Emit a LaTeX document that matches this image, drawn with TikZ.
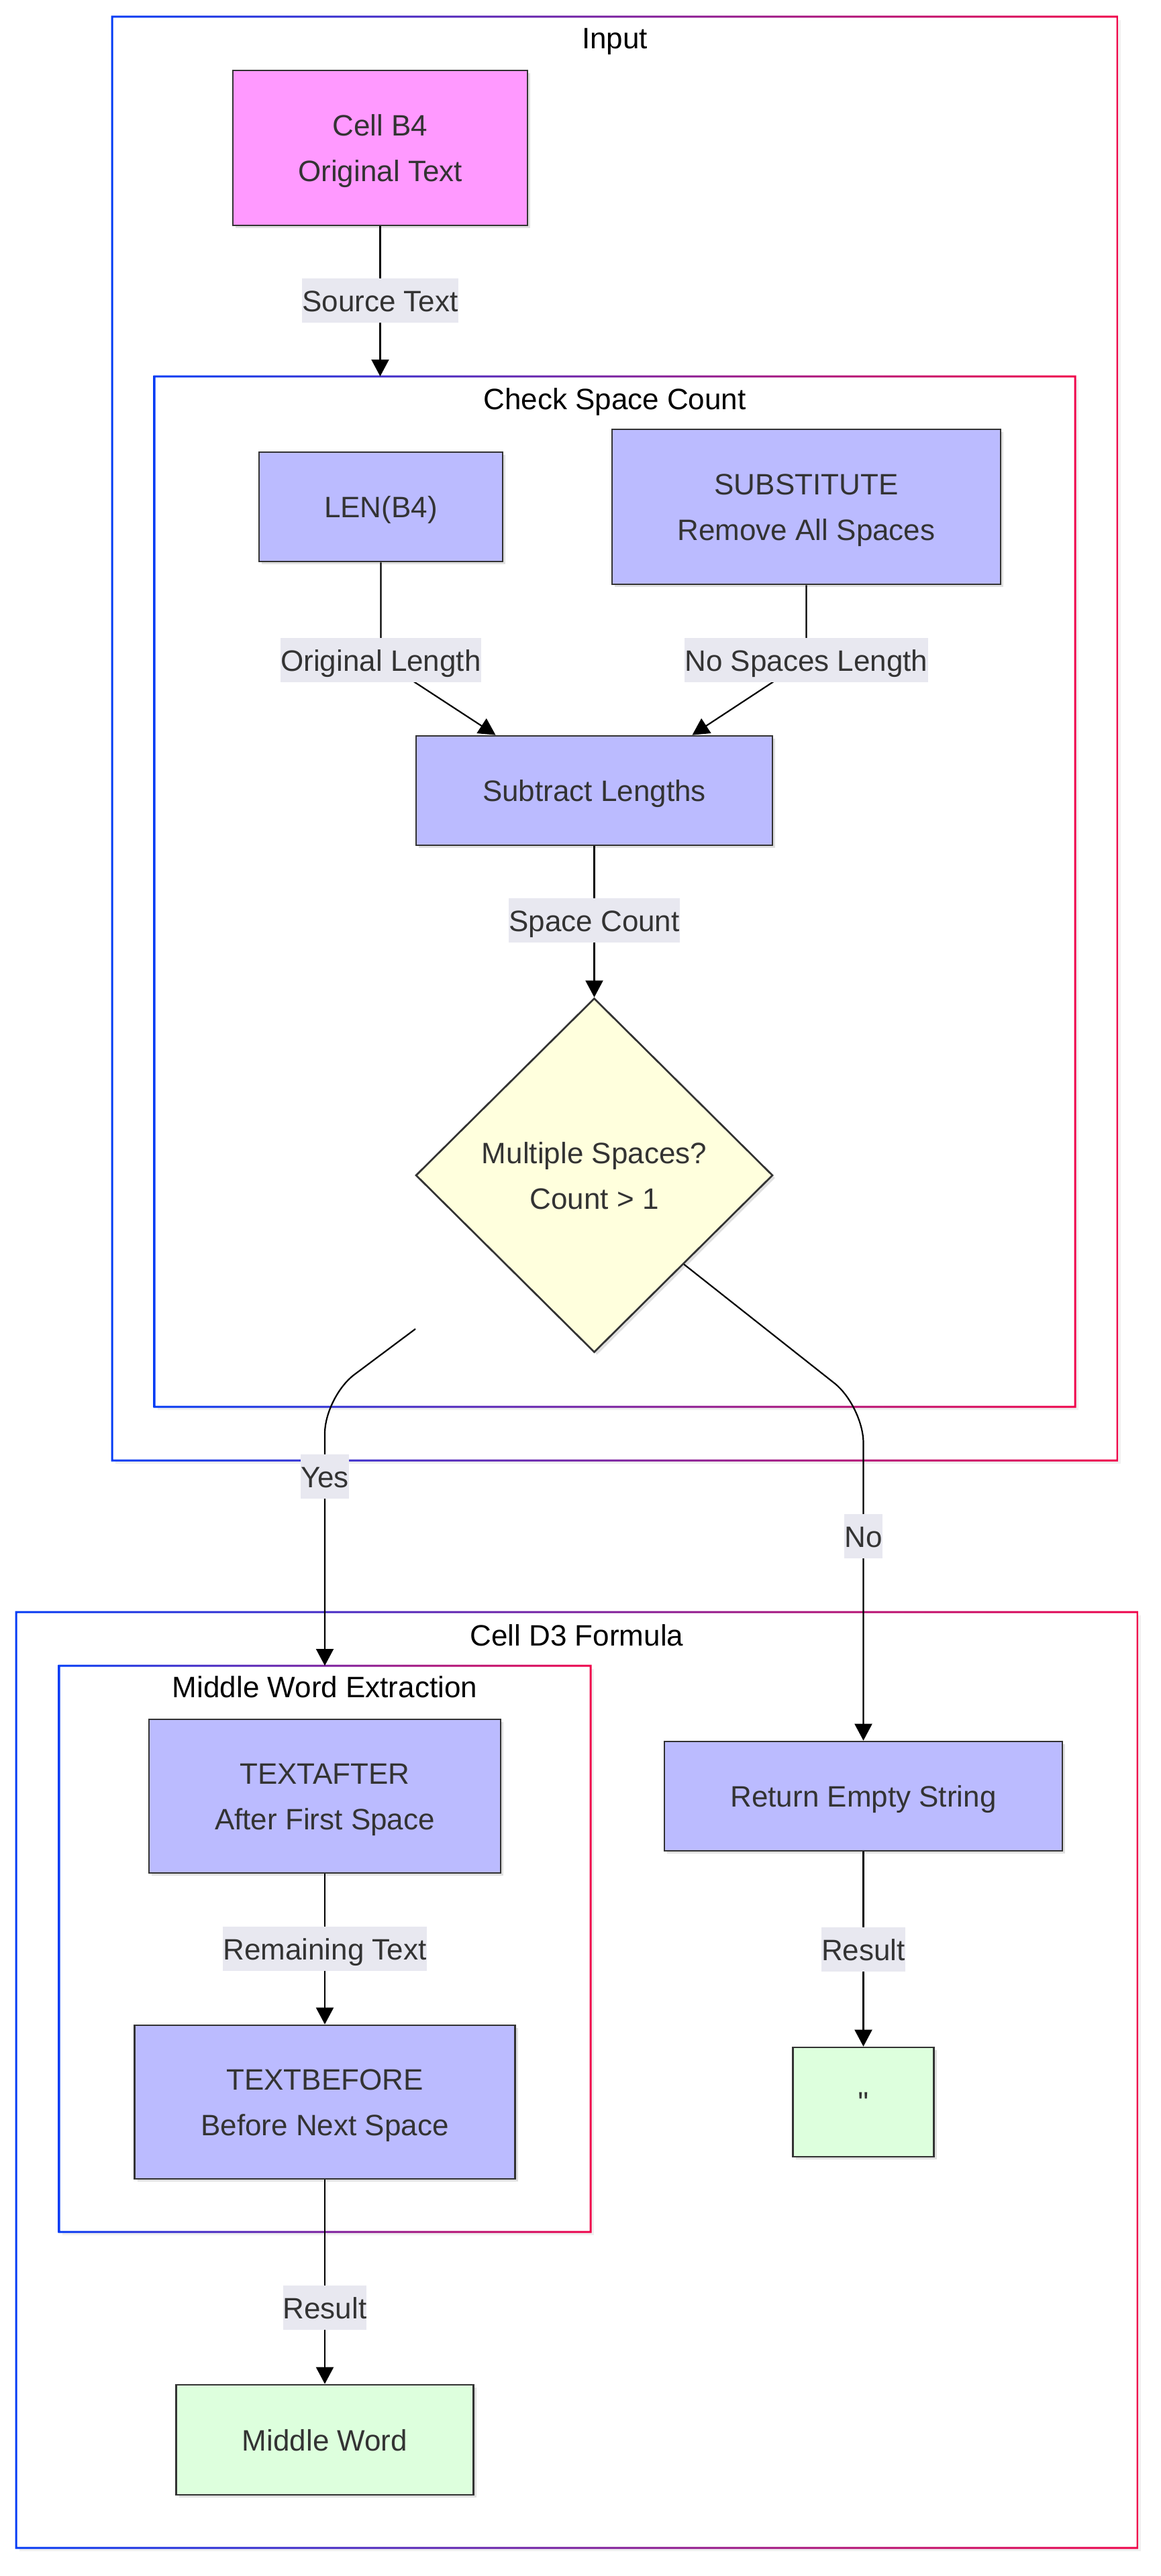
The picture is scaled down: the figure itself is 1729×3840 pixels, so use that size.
\documentclass[tikz,border=0pt]{standalone}
\usepackage{fontspec}
\setmainfont{Liberation Sans}
\newfontfamily\plainsans{Liberation Sans}[Ligatures=TeXOff]
\usetikzlibrary{arrows.meta,shapes.geometric,shadows}
\definecolor{cblue}{RGB}{5,60,245}
\definecolor{cred}{RGB}{240,5,75}
\definecolor{txt}{HTML}{333333}
\definecolor{pinkf}{HTML}{FF99FF}
\definecolor{bluef}{HTML}{BBBBFF}
\definecolor{yelf}{HTML}{FFFFDD}
\definecolor{greenf}{HTML}{DDFFDD}
\definecolor{lblf}{RGB}{232,232,240}
\newcommand\clusterframe[1]{%
  \fill[black,opacity=0.06] ([xshift=5pt,yshift=-5pt]#1.north west) rectangle ([xshift=5pt,yshift=-5pt]#1.south east);
  \fill[white] (#1.north west) rectangle (#1.south east);
  \shade[left color=cblue,right color=cred,even odd rule]
    ([xshift=-1.5pt,yshift=1.5pt]#1.north west) rectangle ([xshift=1.5pt,yshift=-1.5pt]#1.south east)
    ([xshift=1.5pt,yshift=-1.5pt]#1.north west) rectangle ([xshift=-1.5pt,yshift=1.5pt]#1.south east);
}
\begin{document}
\begin{tikzpicture}[x=1pt,y=-1pt,
  every node/.style={font=\fontsize{44}{68}\selectfont, text height=40pt, text depth=8pt},
  twoline/.style={text height=108pt, text depth=8pt},
  cluster/.style={inner sep=0pt, outer sep=0pt},
  ctitle/.style={text=black, inner sep=0pt},
  box/.style={draw=txt, line width=2.7pt, text=txt, align=center, inner sep=0pt,
    drop shadow={shadow xshift=4pt, shadow yshift=-4pt, opacity=0.12, fill=black}},
  proc/.style={box, fill=bluef},
  res/.style={box, fill=greenf},
  decision/.style={box, shape=diamond, fill=yelf, minimum width=532pt, minimum height=528pt},
  elbl/.style={fill=lblf, text=txt, inner xsep=0pt, inner ysep=0pt, minimum height=66pt},
  conn/.style={line width=2.2pt, draw=black, -{Triangle[length=25pt,width=26pt]}}
]
\useasboundingbox (0,0) rectangle (1729,3840);
\fill[white] (0,0) rectangle (1729,3840);

% clusters
\node[cluster, minimum width=1498pt, minimum height=2152pt] (inC) at (916,1101) {};
\clusterframe{inC}
\node[ctitle] (tIn) at (916,57) {Input};
\node[cluster, minimum width=1372pt, minimum height=1536pt] (chk) at (916,1329) {};
\clusterframe{chk}
\node[ctitle] (tChk) at (916,594) {Check Space Count};
\node[cluster, minimum width=1671pt, minimum height=1395pt] (d3) at (859.5,3100.5) {};
\clusterframe{d3}
\node[ctitle] (tD3) at (859.5,2437) {Cell D3 Formula};
\node[cluster, minimum width=792pt, minimum height=844pt] (mwe) at (484,2905) {};
\clusterframe{mwe}
\node[ctitle] (tMwe) at (484,2514) {Middle Word Extraction};

% nodes
\node[box, twoline, fill=pinkf, minimum width=439pt, minimum height=231pt] (b4) at (566.5,220.5) {Cell B4\\Original Text};
\node[proc, minimum width=363pt, minimum height=163pt] (len) at (567.5,755.5) {LEN(B4)};
\node[proc, twoline, minimum width=579pt, minimum height=231pt] (sub) at (1201.5,755.5) {SUBSTITUTE\\Remove All Spaces};
\node[proc, minimum width=531pt, minimum height=163pt] (subt) at (885.5,1178.5) {Subtract Lengths};
\node[decision, twoline] (dia) at (885.5,1752) {Multiple Spaces?\\Count \textgreater{} 1};
\node[proc, twoline, minimum width=524pt, minimum height=229pt] (ta) at (484,2677.5) {TEXTAFTER\\After First Space};
\node[proc, twoline, minimum width=567pt, minimum height=229pt] (tb) at (484,3133.5) {TEXTBEFORE\\Before Next Space};
\node[res, minimum width=443pt, minimum height=164pt] (mw) at (484,3637) {Middle Word};
\node[proc, minimum width=593pt, minimum height=163pt] (ret) at (1286.5,2677.5) {Return Empty String};
\node[res, minimum width=210pt, minimum height=163pt] (q) at (1286.5,3133.5) {\plainsans ''};

% label anchors
\coordinate (cOL) at (567.5,984);
\coordinate (cNS) at (1201.5,984);
\coordinate (yS) at (619,1981);

% edges
\draw[conn] (b4.south) -- (b4.south |- chk.north);
\draw[conn] (len.south) -- (cOL) -- ([xshift=-147pt]subt.north);
\draw[conn] (sub.south) -- (cNS) -- ([xshift=146pt]subt.north);
\draw[conn] (subt.south) -- (dia.north);
\draw[conn, rounded corners=55pt] (yS) -- (484,2082) -- (mwe.north);
\draw[conn, rounded corners=55pt] (dia.south east) -- (1286.5,2096) -- (ret.north);
\draw[conn] (ta.south) -- (tb.north);
\draw[conn] (tb.south) -- (mw.north);
\draw[conn] (ret.south) -- (q.north);

% edge labels
\node[elbl] (lSrc) at (566.5,448) {Source Text};
\node[elbl] (lOL) at (cOL) {Original Length};
\node[elbl] (lNS) at (cNS) {No Spaces Length};
\node[elbl] (lSC) at (885.5,1372) {Space Count};
\node[elbl] (lYes) at (484,2201) {Yes};
\node[elbl] (lNo) at (1286.5,2290) {No};
\node[elbl] (lRT) at (484,2905) {Remaining Text};
\node[elbl] (lR1) at (484,3440) {Result};
\node[elbl] (lR2) at (1286.5,2906) {Result};
\end{tikzpicture}
\end{document}
